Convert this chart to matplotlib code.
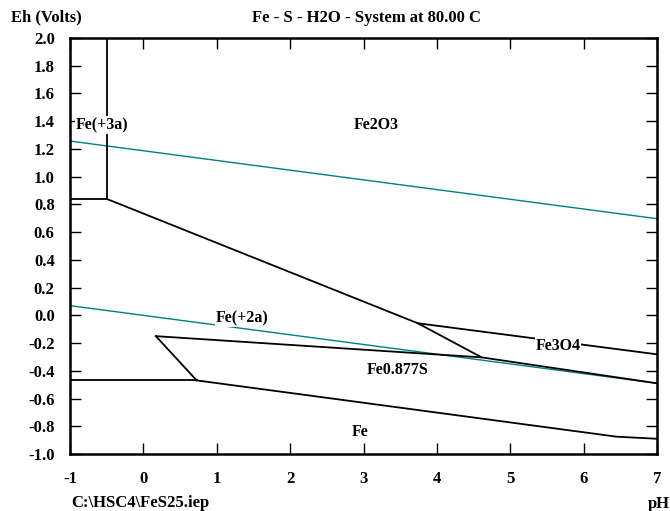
import matplotlib.pyplot as plt

plt.rcParams["font.family"] = "Liberation Serif"
plt.rcParams["font.weight"] = "bold"
plt.rcParams["axes.unicode_minus"] = False

# water stability lines (teal)
o2_ph = [-1, 7]
o2_eh = [1.257, 0.697]
h2_ph = [-1, 7]
h2_eh = [0.07, -0.49]

# phase boundaries (black), each a polyline of (pH, Eh)
fe3_fe2_ph = [-0.5, -0.5, -1]
fe3_fe2_eh = [2.0, 0.84, 0.84]
fe2o3_fe2_ph = [-0.5, 3.74, 4.61]
fe2o3_fe2_eh = [0.84, -0.057, -0.303]
fe2o3_fe3o4_ph = [3.74, 7]
fe2o3_fe3o4_eh = [-0.057, -0.281]
fes_top_ph = [0.17, 4.61, 7]
fes_top_eh = [-0.15, -0.303, -0.49]
fes_left_ph = [0.17, 0.726]
fes_left_eh = [-0.15, -0.469]
fe_fe2_ph = [-1, 0.726]
fe_fe2_eh = [-0.469, -0.469]
fe_fes_ph = [0.726, 6.45, 7]
fe_fes_eh = [-0.469, -0.875, -0.89]

labels = ["Fe(+3a)", "Fe2O3", "Fe(+2a)", "Fe3O4", "Fe0.877S", "Fe"]
label_ph = [-0.92, 3.18, 1.35, 5.65, 3.47, 2.96]
label_eh = [1.373, 1.373, -0.021, -0.219, -0.394, -0.839]
label_ha = ["left", "center", "center", "center", "center", "center"]

teal = "#008080"

fig = plt.figure(figsize=(6.7, 5.11), dpi=100)
ax = fig.add_axes([0.1045, 0.1115, 0.8761, 0.8141])

ax.plot(o2_ph, o2_eh, color=teal, lw=1.0)
ax.plot(h2_ph, h2_eh, color=teal, lw=1.0)

for xs, ys in [(fe3_fe2_ph, fe3_fe2_eh), (fe2o3_fe2_ph, fe2o3_fe2_eh),
               (fe2o3_fe3o4_ph, fe2o3_fe3o4_eh), (fes_top_ph, fes_top_eh),
               (fes_left_ph, fes_left_eh), (fe_fe2_ph, fe_fe2_eh),
               (fe_fes_ph, fe_fes_eh)]:
    ax.plot(xs, ys, color="black", lw=1.3)

for t, x, y, ha in zip(labels, label_ph, label_eh, label_ha):
    ax.text(x, y, t, ha=ha, va="center", fontsize=11.5, fontweight="bold",
            bbox=dict(facecolor="white", edgecolor="none", pad=0.5), zorder=5)

ax.set_xlim(-1, 7)
ax.set_ylim(-1.0, 2.0)
ax.set_xticks(range(-1, 8))
ax.set_yticks([round(-1.0 + 0.2 * i, 1) for i in range(16)])
ax.set_yticklabels([f"{v:.1f}" for v in ax.get_yticks()])
ax.tick_params(direction="in", length=8, width=1.0, labelsize=12,
               top=True, right=True)
ax.tick_params(axis="y", pad=11)
ax.tick_params(axis="x", pad=12)
for s in ax.spines.values():
    s.set_linewidth(1.8)

fig.text(0.016, 0.965, "Eh (Volts)", fontsize=12, fontweight="bold", va="center")
fig.text(0.547, 0.965, "Fe - S - H2O - System at 80.00 C", fontsize=12,
         fontweight="bold", ha="center", va="center")
fig.text(0.106, 0.016, "C:\\HSC4\\FeS25.iep", fontsize=12, fontweight="bold",
         va="center")
fig.text(0.999, 0.014, "pH", fontsize=12, fontweight="bold", ha="right",
         va="center")

fig.savefig("out.png", dpi=100)
